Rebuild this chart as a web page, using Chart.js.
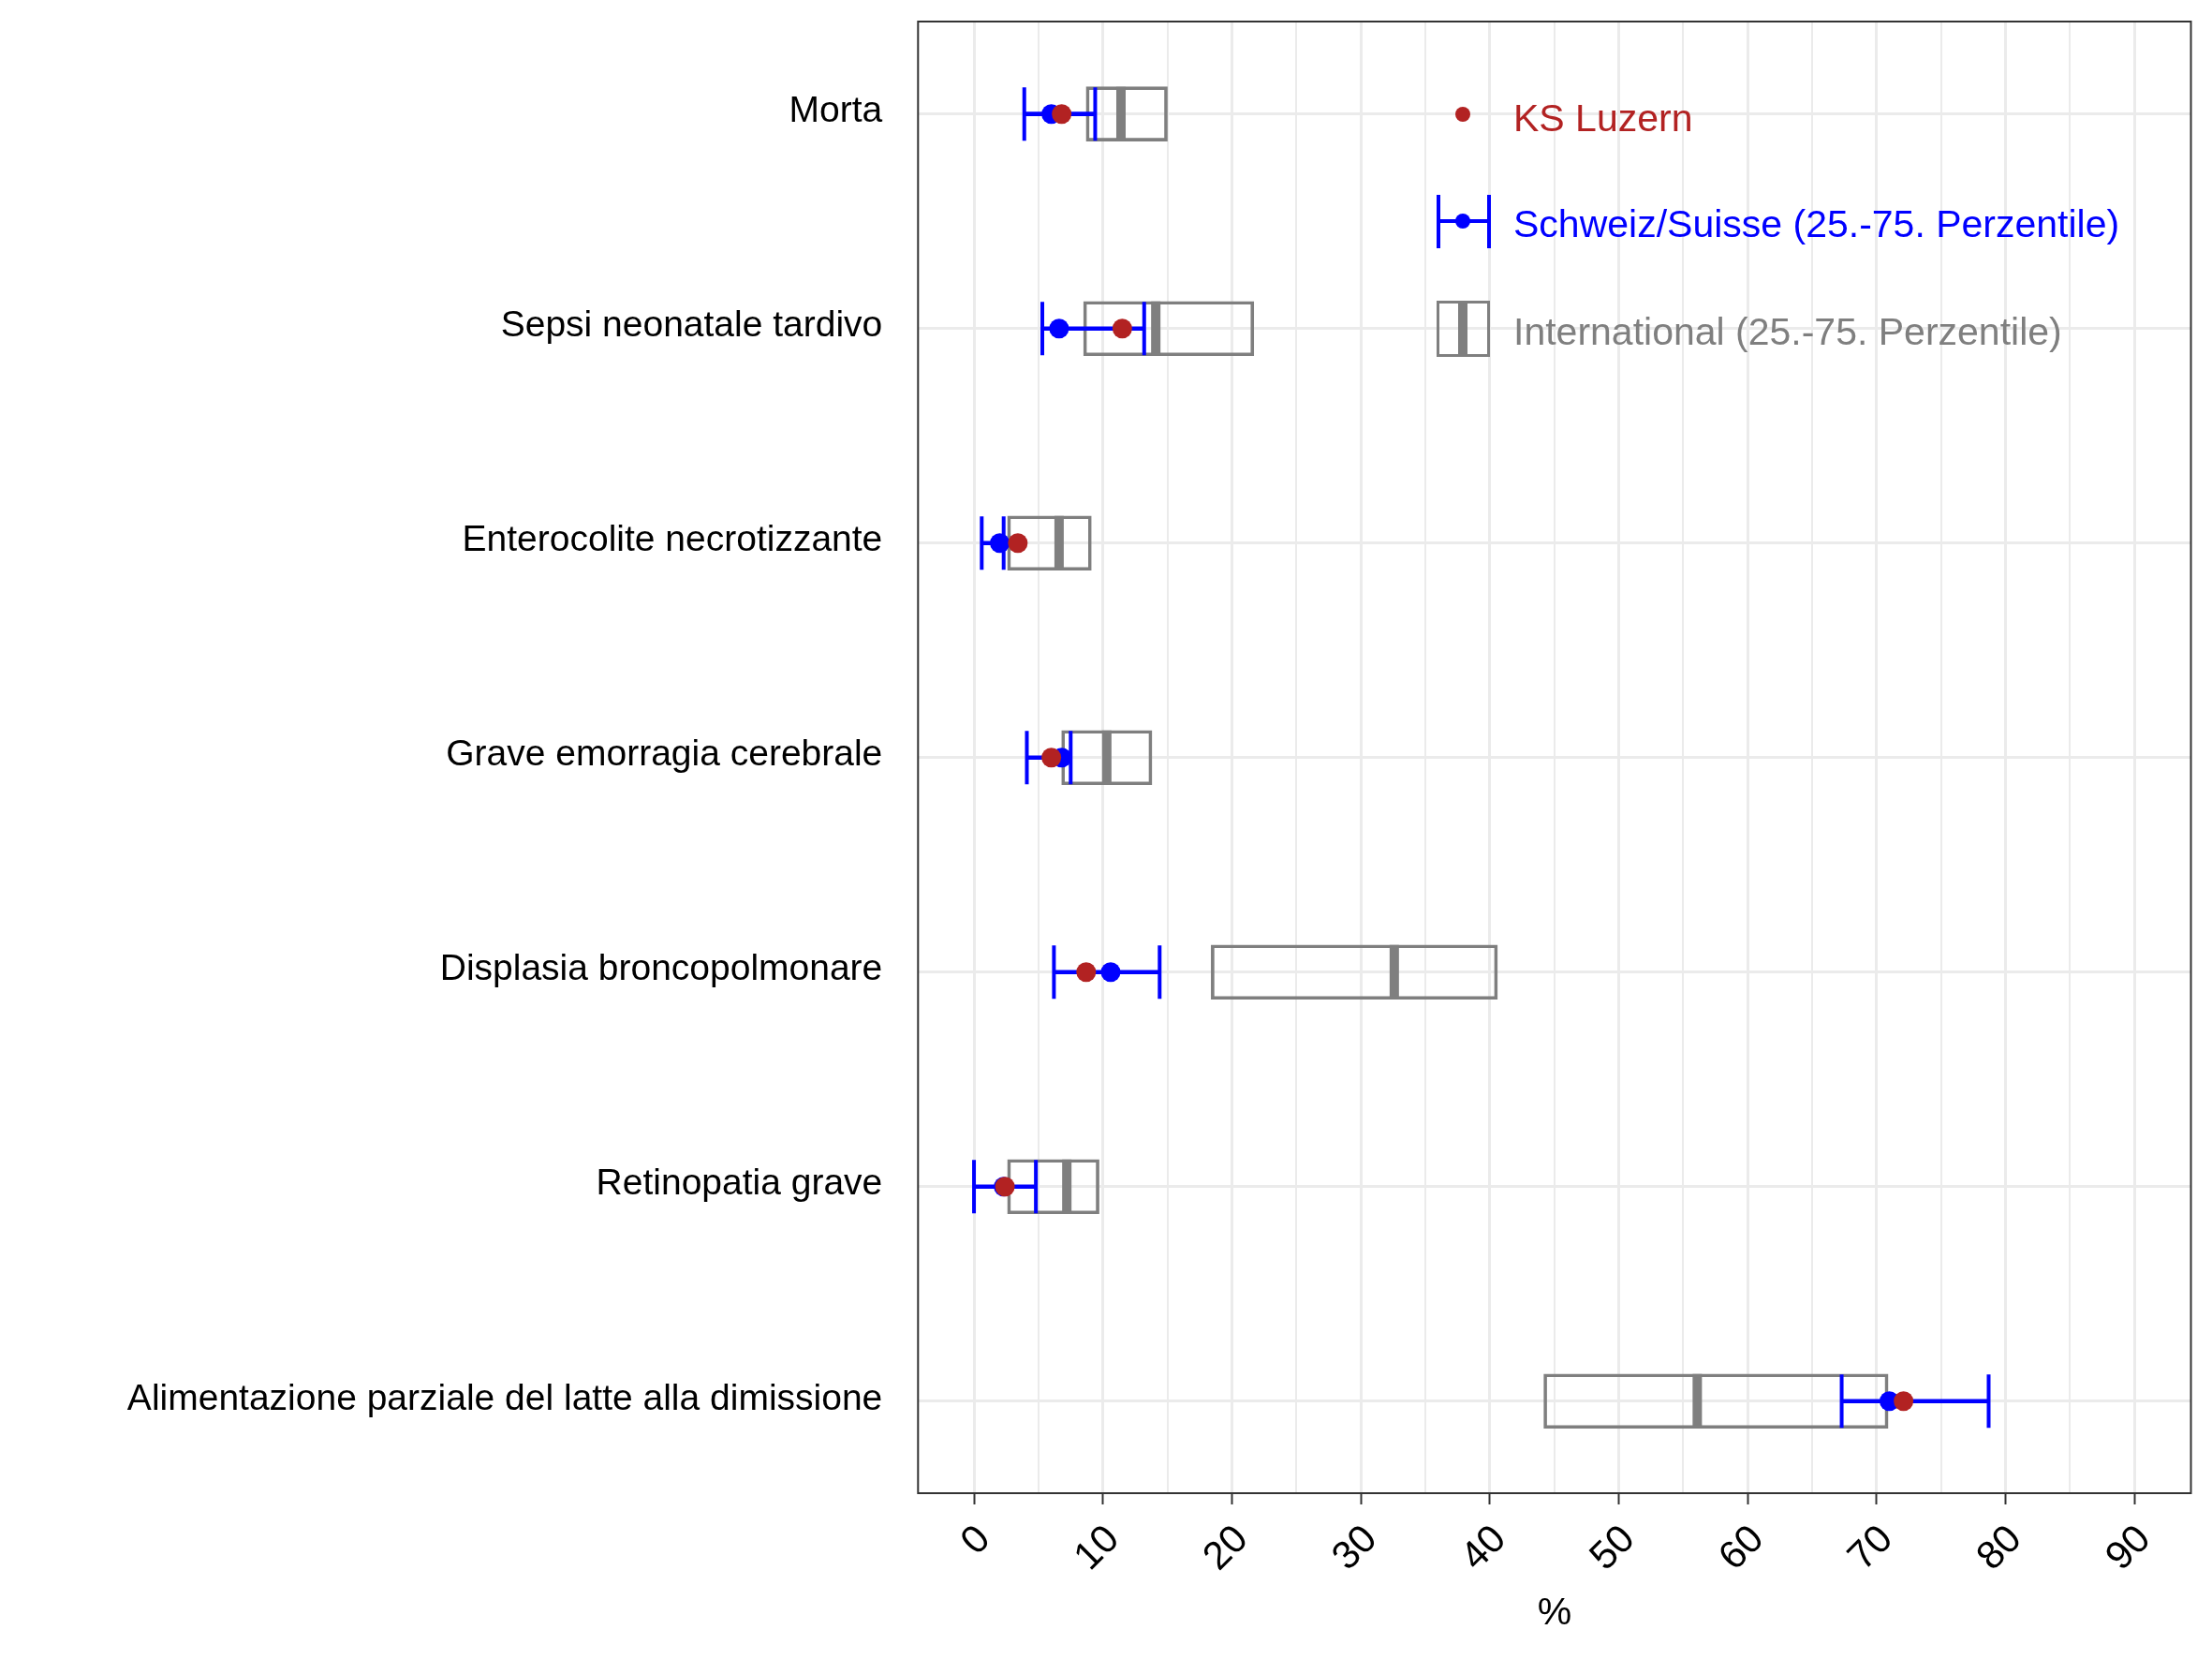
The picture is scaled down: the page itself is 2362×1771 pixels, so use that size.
<!DOCTYPE html>
<html>
<head>
<meta charset="utf-8">
<script src="https://cdn.jsdelivr.net/npm/chart.js@4.4.1/dist/chart.umd.min.js"></script>
<style>
  html, body { margin: 0; padding: 0; background: #ffffff; }
  #wrap { position: relative; width: 2362px; height: 1771px; overflow: hidden; }
  canvas { display: block; }
  .lgtext { position: absolute; font-family: 'Liberation Sans', Arial, sans-serif; font-size: 41px; line-height: 41px; white-space: nowrap; }
  .lgkey { position: absolute; box-sizing: border-box; }
</style>
</head>
<body>
<div id="wrap">
  <canvas id="chart" width="2362" height="1771"></canvas>

  <!-- legend (inside the panel, top right) -->
  <div class="lgkey" style="left:1554px;top:114px;width:16px;height:16px;border-radius:50%;background:#B22222;"></div>
  <div class="lgtext" style="left:1616px;top:106px;color:#B22222;">KS Luzern</div>

  <div class="lgkey" style="left:1534px;top:208px;width:4px;height:57px;background:#0000FF;"></div>
  <div class="lgkey" style="left:1588px;top:208px;width:4px;height:57px;background:#0000FF;"></div>
  <div class="lgkey" style="left:1534px;top:234px;width:58px;height:4px;background:#0000FF;"></div>
  <div class="lgkey" style="left:1554px;top:228px;width:16px;height:16px;border-radius:50%;background:#0000FF;"></div>
  <div class="lgtext" style="left:1616px;top:219px;color:#0000FF;">Schweiz/Suisse (25.-75. Perzentile)</div>

  <div class="lgkey" style="left:1534px;top:321px;width:57px;height:60px;border:3px solid #7F7F7F;"></div>
  <div class="lgkey" style="left:1557px;top:321px;width:10px;height:60px;background:#7F7F7F;"></div>
  <div class="lgtext" style="left:1616px;top:334px;color:#7F7F7F;">International (25.-75. Perzentile)</div>
</div>

<script>
// ---------- data ----------
const categories = [
  'Morta',
  'Sepsi neonatale tardivo',
  'Enterocolite necrotizzante',
  'Grave emorragia cerebrale',
  'Displasia broncopolmonare',
  'Retinopatia grave',
  'Alimentazione parziale del latte alla dimissione'
];
const rowPositions = [1, 2, 3, 4, 5, 6, 7];

// KS Luzern (red point)
const ksLuzern = [6.8, 11.5, 3.4, 6.0, 8.7, 2.4, 72.1];

// Schweiz/Suisse: median point and 25.-75. percentile error bar (blue)
const chMedian = [6.0, 6.6, 2.0, 6.8, 10.6, 2.3, 71.0];
const chP25    = [3.9, 5.3, 0.6, 4.1, 6.2, 0.0, 67.3];
const chP75    = [9.4, 13.2, 2.3, 7.5, 14.4, 4.8, 78.7];

// International: 25.-75. percentile box with median (grey)
const intP25    = [8.7, 8.5, 2.6, 6.8, 18.4, 2.6, 44.2];
const intMedian = [11.4, 14.1, 6.6, 10.3, 32.6, 7.2, 56.1];
const intP75    = [15.0, 21.7, 9.1, 13.8, 40.6, 9.7, 70.9];

// x axis ticks (grid every 5, labels every 10)
const xTickValues = [0, 5, 10, 15, 20, 25, 30, 35, 40, 45, 50, 55, 60, 65, 70, 75, 80, 85, 90];
const xTickLabels = ['0', '', '10', '', '20', '', '30', '', '40', '', '50', '', '60', '', '70', '', '80', '', '90'];
const xAxisTitle = '%';

// ---------- helpers ----------
const points = vals => vals.map((v, i) => ({ x: v, y: rowPositions[i] }));
const ranges = (lo, hi) => lo.map((v, i) => ({ x: [v, hi[i]], y: rowPositions[i] }));

const RED = '#B22222', BLUE = '#0000FF', GREY = '#7F7F7F', GRID = '#EBEBEB';

Chart.defaults.font.family = "'Liberation Sans', Arial, sans-serif";
Chart.defaults.color = '#000000';

const panelBorder = {
  id: 'panelBorder',
  afterDatasetsDraw(chart) {
    const { ctx, chartArea: a } = chart;
    ctx.save();
    ctx.strokeStyle = '#333333';
    ctx.lineWidth = 2;
    ctx.strokeRect(a.left, a.top, a.right - a.left, a.bottom - a.top);
    ctx.restore();
  }
};

new Chart(document.getElementById('chart'), {
  type: 'scatter',
  data: {
    datasets: [
      { type: 'scatter', label: 'KS Luzern', data: points(ksLuzern), order: 0,
        pointRadius: 10.5, pointBackgroundColor: RED, pointBorderWidth: 0, pointBorderColor: RED },
      { type: 'scatter', label: 'Schweiz/Suisse median', data: points(chMedian), order: 1,
        pointRadius: 10.5, pointBackgroundColor: BLUE, pointBorderWidth: 0, pointBorderColor: BLUE },
      { type: 'scatter', label: 'Schweiz/Suisse P25', data: points(chP25), order: 2,
        pointStyle: 'line', pointRotation: 90, pointRadius: 28.5, pointBorderColor: BLUE, pointBorderWidth: 4 },
      { type: 'scatter', label: 'Schweiz/Suisse P75', data: points(chP75), order: 2,
        pointStyle: 'line', pointRotation: 90, pointRadius: 28.5, pointBorderColor: BLUE, pointBorderWidth: 4 },
      { type: 'bar', indexAxis: 'y', label: 'Schweiz/Suisse (25.-75. Perzentile)', data: ranges(chP25, chP75), order: 3,
        backgroundColor: BLUE, borderWidth: 0, grouped: false, barThickness: 4, maxBarThickness: 4 },
      { type: 'scatter', label: 'International median', data: points(intMedian), order: 4,
        pointStyle: 'line', pointRotation: 90, pointRadius: 29, pointBorderColor: GREY, pointBorderWidth: 10 },
      { type: 'bar', indexAxis: 'y', label: 'International (25.-75. Perzentile)', data: ranges(intP25, intP75), order: 5,
        backgroundColor: 'rgba(255,255,255,0)', borderColor: GREY, borderWidth: 3, borderSkipped: false,
        grouped: false, barThickness: 58, maxBarThickness: 58 }
    ]
  },
  options: {
    responsive: false,
    animation: false,
    events: [],
    layout: { autoPadding: false, padding: { top: 23, right: 22.5, bottom: 0, left: 0 } },
    plugins: { legend: { display: false }, tooltip: { enabled: false } },
    scales: {
      x: {
        type: 'linear',
        position: 'bottom',
        offset: false,
        min: -4.34,
        max: 94.39,
        afterBuildTicks: axis => { axis.ticks = xTickValues.map(v => ({ value: v })); },
        afterFit: axis => {
          axis.height = 177;
          axis.paddingLeft = 0; axis.paddingRight = 0; axis.paddingTop = 0; axis.paddingBottom = 0;
        },
        ticks: {
          autoSkip: false,
          minRotation: 45,
          maxRotation: 45,
          padding: 13,
          labelOffset: 11,
          color: '#000000',
          font: { size: 42 },
          callback: (value, index) => xTickLabels[index]
        },
        grid: {
          offset: false,
          color: GRID,
          lineWidth: ctx => (ctx.tick && xTickLabels[ctx.index] !== '') ? 3 : 2,
          drawTicks: true,
          tickLength: 12,
          tickWidth: 2,
          tickColor: ctx => (ctx.tick && xTickLabels[ctx.index] !== '') ? '#333333' : 'rgba(0,0,0,0)'
        },
        border: { display: false },
        title: { display: true, text: xAxisTitle, color: '#000000', font: { size: 41 }, padding: { top: 0, bottom: 24 } }
      },
      y: {
        type: 'linear',
        position: 'left',
        reverse: true,
        offset: false,
        min: 0.569,
        max: 7.429,
        afterBuildTicks: axis => { axis.ticks = rowPositions.map(v => ({ value: v })); },
        afterFit: axis => {
          axis.width = 980.3;
          axis.paddingLeft = 0; axis.paddingRight = 0; axis.paddingTop = 0; axis.paddingBottom = 0;
        },
        ticks: {
          autoSkip: false,
          padding: 38,
          labelOffset: -2,
          color: '#000000',
          font: { size: 39 },
          callback: (value, index) => categories[index]
        },
        grid: { offset: false, color: GRID, lineWidth: 3, drawTicks: false },
        border: { display: false }
      }
    }
  },
  plugins: [panelBorder]
});
</script>
</body>
</html>
